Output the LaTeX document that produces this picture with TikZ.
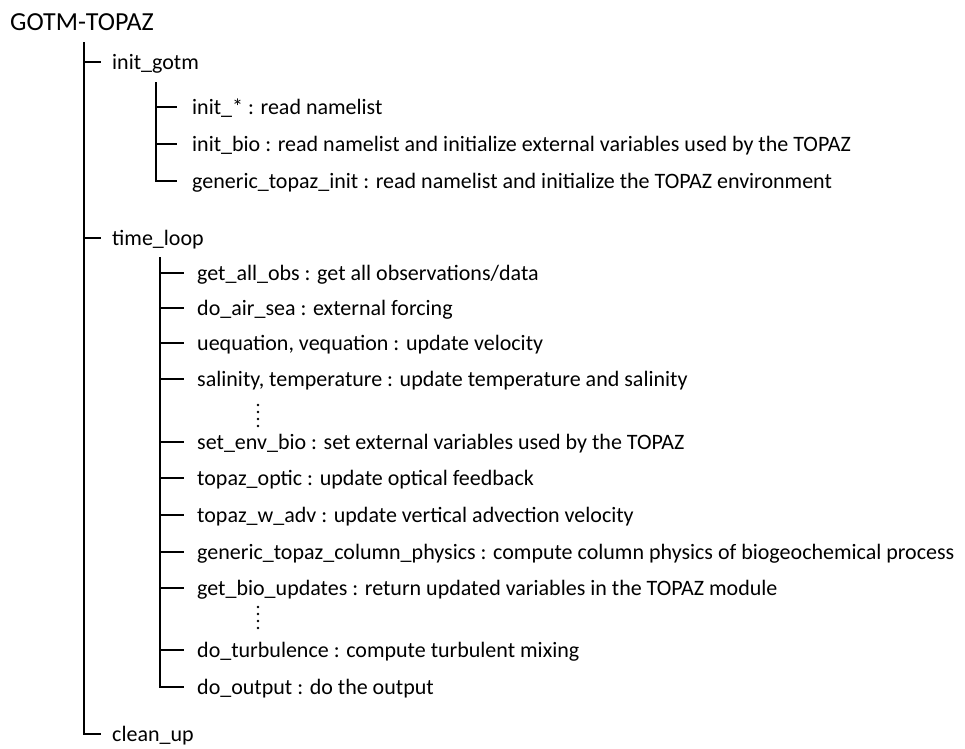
\documentclass[tikz,border=0pt]{standalone}
\usepackage{fontspec}
\setmainfont{Carlito}
\usetikzlibrary{positioning}

\begin{document}
\begin{tikzpicture}[
  x=1pt, y=-1pt,
  root/.style={font=\fontsize{26}{30}\selectfont, anchor=base west,
               inner sep=0pt},
  item/.style={font=\fontsize{22}{26}\selectfont, anchor=west,
               inner sep=0pt, text height=15pt, text depth=0pt},
  tree/.style={draw, line width=1.7pt},
  dot/.style={fill, circle, inner sep=0pt, minimum size=2.8pt}
]
  \useasboundingbox (0,0) rectangle (965,748);

  \node[root] (gotm) at (10,30) {GOTM-TOPAZ};

  % main program
  \coordinate (trunk) at (84,42);
  \node[item] (init)    at (112,62)  {init\_gotm};
  \node[item] (loop)    at (112,238) {time\_loop};
  \node[item] (cleanup) at (112,734) {clean\_up};

  % init_gotm
  \coordinate (itrunk) at (156,82);
  \node[item] (initx)  at (192,107) {init\_* : read namelist};
  \node[item] (initb)  at (192,144) {init\_bio : read namelist and initialize external variables used by the TOPAZ};
  \node[item] (ginit)  at (192,181) {generic\_topaz\_init : read namelist and initialize the TOPAZ environment};

  % time_loop
  \coordinate (ltrunk) at (160,257);
  \node[item] (obs)   at (197,273) {get\_all\_obs : get all observations/data};
  \node[item] (air)   at (197,308) {do\_air\_sea : external forcing};
  \node[item] (uv)    at (197,343) {uequation, vequation : update velocity};
  \node[item] (ts)    at (197,379) {salinity, temperature : update temperature and salinity};
  \node[item] (env)   at (197,442) {set\_env\_bio : set external variables used by the TOPAZ};
  \node[item] (optic) at (197,478) {topaz\_optic : update optical feedback};
  \node[item] (wadv)  at (197,515) {topaz\_w\_adv : update vertical advection velocity};
  \node[item] (col)   at (197,552) {generic\_topaz\_column\_physics : compute column physics of biogeochemical process};
  \node[item] (upd)   at (197,588) {get\_bio\_updates : return updated variables in the TOPAZ module};
  \node[item] (turb)  at (197,650) {do\_turbulence : compute turbulent mixing};
  \node[item] (out)   at (197,687) {do\_output : do the output};

  % skipped calls
  \foreach \y in {405,412,419,426} \node[dot] at (258,\y) {};
  \foreach \y in {607,614,621,628} \node[dot] at (258,\y) {};

  % branches
  \draw[tree] (trunk) |- ([xshift=-11pt]cleanup.west);
  \foreach \n in {init,loop}
    \draw[tree] (trunk |- \n.west) -- ([xshift=-11pt]\n.west);

  \draw[tree] (itrunk) |- ([xshift=-15pt]ginit.west);
  \foreach \n in {initx,initb}
    \draw[tree] (itrunk |- \n.west) -- ([xshift=-15pt]\n.west);

  \draw[tree] (ltrunk) |- ([xshift=-13pt]out.west);
  \foreach \n in {obs,air,uv,ts,env,optic,wadv,col,upd,turb}
    \draw[tree] (ltrunk |- \n.west) -- ([xshift=-13pt]\n.west);
\end{tikzpicture}
\end{document}
